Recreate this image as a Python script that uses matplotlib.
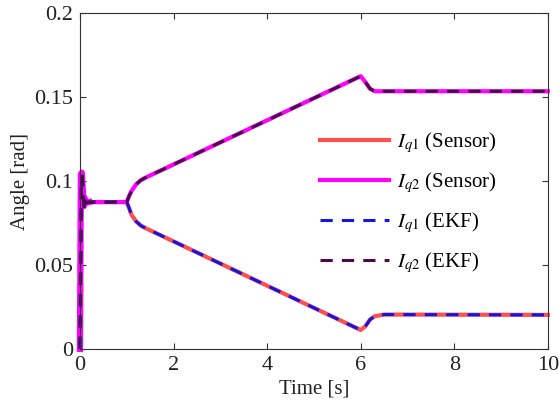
import numpy as np
import matplotlib
matplotlib.use("Agg")
import matplotlib.pyplot as plt

plt.rcParams['font.family'] = ['Liberation Serif', 'DejaVu Serif']
plt.rcParams['mathtext.fontset'] = 'stix'

# key points (time [s], angle [rad])
t_q2 = [0, 0.02, 0.04, 0.06, 0.08, 0.10, 0.13, 0.2, 1.0, 1.05, 1.1, 1.2, 1.3, 1.4,
        6.0, 6.1, 6.2, 6.3, 6.5, 10]
iq2 = [0, 0.104, 0.105, 0.095, 0.085, 0.090, 0.087, 0.0875, 0.0875, 0.091, 0.094,
       0.098, 0.1005, 0.102, 0.1625, 0.159, 0.155, 0.1535, 0.1535, 0.1535]

t_q1 = [0, 0.02, 0.04, 0.06, 0.08, 0.10, 0.13, 0.2, 1.0, 1.05, 1.1, 1.2, 1.3, 1.4,
        6.0, 6.1, 6.2, 6.3, 6.5, 10]
iq1 = [0, 0.104, 0.105, 0.095, 0.085, 0.090, 0.087, 0.0875, 0.0875, 0.084, 0.080,
       0.076, 0.0735, 0.072, 0.0113, 0.0135, 0.0175, 0.0195, 0.0205, 0.0203]

# EKF estimates (follow the sensor closely, a bit behind in the first spike)
t_ekf = [0, 0.03, 0.05, 0.07, 0.09, 0.11, 0.14, 0.2, 1.0, 1.05, 1.1, 1.2, 1.3, 1.4,
         6.0, 6.1, 6.2, 6.3, 6.5, 10]
ekf_q2 = [0, 0.098, 0.103, 0.094, 0.084, 0.089, 0.087, 0.0875, 0.0875, 0.091, 0.094,
          0.098, 0.1005, 0.102, 0.1625, 0.159, 0.155, 0.1535, 0.1535, 0.1535]
ekf_q1 = [0, 0.098, 0.103, 0.094, 0.084, 0.089, 0.087, 0.0875, 0.0875, 0.084, 0.080,
          0.076, 0.0735, 0.072, 0.0113, 0.0135, 0.0175, 0.0195, 0.0205, 0.0203]

fig = plt.figure(figsize=(5.59, 4.12), dpi=100)
ax = fig.add_axes([0.143, 0.153, 0.837, 0.815])

ax.plot(t_q1, iq1, color='#ff5050', lw=3, label=r'$I_{q1}$ (Sensor)', clip_on=False)
ax.plot(t_q2, iq2, color='#ff00ff', lw=3, label=r'$I_{q2}$ (Sensor)', clip_on=False)
# the magenta start-up transient is drawn as a wide band in the original
ax.plot(t_q2[:8], iq2[:8], color='#ff00ff', lw=4.5, clip_on=False)
ax.plot(t_ekf, ekf_q1, color='#1515e0', lw=2.2, dashes=(4, 3), label=r'$I_{q1}$ (EKF)', clip_on=False)
ax.plot(t_ekf, ekf_q2, color='#4a0a4a', lw=2.2, dashes=(4, 3), label=r'$I_{q2}$ (EKF)', clip_on=False)

ax.set_xlim(0, 10)
ax.set_ylim(0, 0.2)
ax.set_xticks([0, 2, 4, 6, 8, 10])
ax.set_yticks([0, 0.05, 0.1, 0.15, 0.2])
ax.set_yticklabels(['0', '0.05', '0.1', '0.15', '0.2'])
ax.tick_params(direction='in', top=True, right=True, labelsize=16, length=4,
               color='#333333', labelcolor='#222222', pad=5)
for s in ax.spines.values():
    s.set_color('#333333')
    s.set_linewidth(0.8)

ax.set_xlabel('Time [s]', fontsize=15, color='#222222', labelpad=3)
ax.set_ylabel('Angle [rad]', fontsize=15, color='#222222', labelpad=3)

ax.legend(loc='center left', bbox_to_anchor=(0.513, 0.437), frameon=False,
          fontsize=15, handlelength=3.3, handletextpad=0.4, borderpad=0,
          borderaxespad=0, labelspacing=0.72)

fig.savefig('out.png', dpi=100)
